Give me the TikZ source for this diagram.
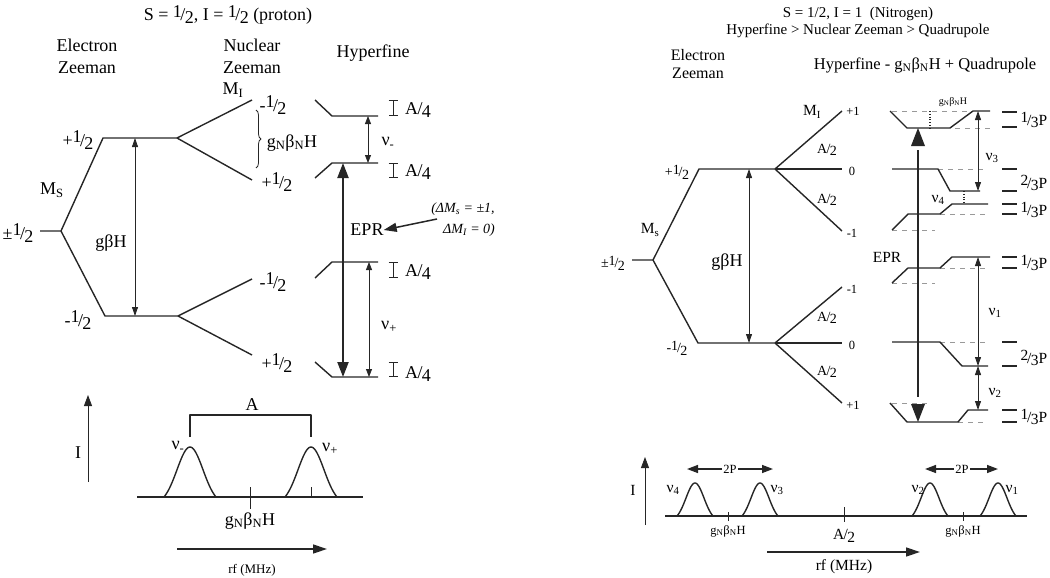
\documentclass[tikz,border=0pt]{standalone}
\usepackage{fontspec}
\setmainfont{Liberation Serif}
\usetikzlibrary{arrows.meta,decorations.pathreplacing}
\newcommand\hf[2]{\raisebox{.45ex}{#1}\kern-.08em/\kern-.04em\raisebox{-.35ex}{#2}}
\newcommand\lo[2]{#1\kern-.04em/\kern-.04em\raisebox{-.4ex}{#2}}
\begin{document}
\begin{tikzpicture}[x=1pt,y=-1pt,line join=round,
  >={Triangle[length=9pt,width=6pt]},
  big/.style={font=\fontsize{18}{22}\selectfont,inner sep=0pt},
  mid/.style={font=\fontsize{15.5}{18}\selectfont,inner sep=0pt},
  sml/.style={font=\fontsize{12.5}{14}\selectfont,inner sep=0pt},
  tny/.style={font=\fontsize{10}{12}\selectfont,inner sep=0pt},
  lev/.style={line width=1.4pt,black!85},
  thn/.style={line width=0.8pt,black!85},
  epr/.style={line width=2.2pt,black!85,>={Triangle[length=15pt,width=11pt]}},
  gl/.style={black!40,line width=0.7pt,dash pattern=on 5pt off 5pt},
  ibar/.style={thn,{Bar[width=9pt]}-{Bar[width=9pt]}}]
\useasboundingbox (0,0) rectangle (1050,578);
% proton
\node[big] (ttlP) at (228,15) {S = \hf12, I = \hf12 (proton)};
\node[big,align=center] (ezP) at (87,56) {Electron\\Zeeman};
\node[big,align=center] (nzP) at (252,56) {Nuclear\\Zeeman};
\node[big] (hfP) at (373,53) {Hyperfine};
\draw[lev] (40,231)--(61,231)--(103,138)--(177,138)--(252,100);
\draw[lev] (177,138)--(252,180);
\draw[lev] (61,231)--(105,316)--(178,316)--(252,279);
\draw[lev] (178,316)--(252,355);
\node[big] (pmP) at (18,233) {±\hf12};
\node[big] (msP) at (52,190) {M\textsubscript{S}};
\node[big] (upP) at (78,140) {+\hf12};
\node[big] (dnP) at (78,320) {-\hf12};
\node[big] (miP) at (233,90) {M\textsubscript{I}};
\node[big] (a1P) at (273,105) {-\hf12};
\node[big] (a2P) at (277,182) {+\hf12};
\node[big] (a3P) at (273,282) {-\hf12};
\node[big] (a4P) at (277,363) {+\hf12};
\draw[thn,<->] (135,138)--(135,316);
\node[big] (gbhP) at (111,243) {gβH};
\draw[thn,decorate,decoration={brace,amplitude=5pt}] (256,110)--(256,168);
\node[big] (gnP) at (292,143) {g\textsubscript{N}β\textsubscript{N}H};
\draw[lev] (315,100)--(332,116)--(378,116);
\draw[lev] (315,178)--(332,163)--(378,163);
\draw[lev] (315,278)--(332,262)--(378,262);
\draw[lev] (315,362)--(332,377)--(378,377);
\foreach \a/\b in {100/116,163/178,262/278,362/377}
  \draw[ibar] (393,\a)--(393,\b);
\foreach \y in {110,172,272,374}
  \node[big] at (418,\y) {\lo A4};
\draw[thn,<->,>={Triangle[length=8pt,width=6pt]}] (368,116)--(368,163);
\draw[thn,<->,>={Triangle[length=8pt,width=6pt]}] (369,262)--(369,377);
\node[big] (nmP) at (388,143) {ν\textsubscript{-}};
\node[big] (npP) at (389,327) {ν\textsubscript{+}};
\draw[epr,<->] (343,163)--(343,377);
\node[big] (eprP) at (367,230) {EPR};
\coordinate (epra) at (437,219);
\draw[line width=1.5pt,black!85,-{Triangle[length=13pt,width=9pt]}] (epra)--(eprP.east);
\node[mid,font=\fontsize{14}{16}\selectfont\itshape] (dmsP) at (463,209) {(ΔM\textsubscript{s} = ±1,};
\node[mid,font=\fontsize{14}{16}\selectfont\itshape] (dmiP) at (469,230) {ΔM\textsubscript{I} = 0)};
% proton spectrum
\draw[thn,->,>={Triangle[length=11pt,width=8pt]}] (88,482)--(88,395);
\node[big] (iP) at (78,453) {I};
\draw[lev] (137,497)--(363,497);
\foreach \c in {190,311}
  \draw[lev] plot[smooth,samples=40,domain=-26:26] ({\c+\x},{497-50*(exp(-(\x)*(\x)/338)-0.135)/0.865});
\draw[thn] (250,487)--(250,509);
\draw[thn] (311,487)--(311,497);
\draw[lev] (190,437)--(190,415)--(311,415)--(311,437);
\node[big] (aP) at (252,405) {A};
\node[big] (vmP) at (178,447) {ν\textsubscript{-}};
\node[big] (vpP) at (330,449) {ν\textsubscript{+}};
\node[big] (gnbP) at (250,521) {g\textsubscript{N}β\textsubscript{N}H};
\draw[lev,->,>={Triangle[length=14pt,width=9pt]}] (177,549)--(327,549);
\node[mid,font=\fontsize{13}{15}\selectfont] (rfP) at (252,570) {rf (MHz)};
% nitrogen
\node[mid,align=center,font=\fontsize{15}{17}\selectfont] (ttlN) at (858,22) {S = 1/2, I = 1\ \ (Nitrogen)\\Hyperfine {\char"003E} Nuclear Zeeman {\char"003E} Quadrupole};
\node[mid,align=center,font=\fontsize{16}{18}\selectfont] (ezN) at (698,64) {Electron\\Zeeman};
\node[mid,font=\fontsize{16.5}{18}\selectfont] (hfN) at (925,65) {Hyperfine - g\textsubscript{N}β\textsubscript{N}H + Quadrupole};
\draw[lev] (632,260)--(653,260)--(699,169)--(775,169)--(842,111);
\draw[lev] (775,169)--(842,169);
\draw[lev] (775,169)--(842,231);
\draw[lev] (653,260)--(698,343)--(775,343)--(842,287);
\draw[lev] (775,343)--(842,343);
\draw[lev] (775,343)--(842,403);
\node[sml,font=\fontsize{14}{16}\selectfont] (pmN) at (613,263) {±\hf12};
\node[mid] (msN) at (650,230) {M\textsubscript{s}};
\node[sml,font=\fontsize{14}{16}\selectfont] (upN) at (677,172) {+\hf12};
\node[sml,font=\fontsize{14}{16}\selectfont] (dnN) at (677,348) {-\hf12};
\draw[thn,<->] (749,169)--(749,343);
\node[big] (gbhN) at (727,262) {gβH};
\node[mid] (miN) at (812,112) {M\textsubscript{I}};
\node[sml] (l1N) at (853,111) {+1};
\node[sml] (l2N) at (852,171) {0};
\node[sml] (l3N) at (852,233) {-1};
\node[sml] (l4N) at (852,289) {-1};
\node[sml] (l5N) at (852,345) {0};
\node[sml] (l6N) at (853,405) {+1};
\foreach \y in {150,200,318,372}
  \node[sml,font=\fontsize{14}{16}\selectfont] at (827,\y) {\lo A2};
% hyperfine levels
\draw[gl] (892,111)--(967,111);
\draw[gl] (955,128)--(993,128);
\draw[lev] (890,111)--(907,128)--(950,128)--(973,111)--(990,111);
\draw[gl] (938,169)--(987,169);
\draw[lev] (892,169)--(938,169)--(950,191)--(980,191);
\draw[gl] (892,230)--(935,230);
\draw[gl] (940,214)--(987,214);
\draw[lev] (892,230)--(908,214)--(940,214)--(952,204)--(988,204);
\draw[gl] (892,283)--(935,283);
\draw[gl] (940,268)--(987,268);
\draw[lev] (892,283)--(908,268)--(940,268)--(952,257)--(990,257);
\draw[gl] (940,342)--(987,342);
\draw[lev] (892,342)--(940,342)--(962,366)--(988,366);
\draw[gl] (892,403)--(930,403);
\draw[gl] (958,422)--(987,422);
\draw[lev] (890,403)--(907,422)--(958,422)--(968,410)--(988,410);
\draw[thn,dotted,line width=1.2pt] (930,111)--(930,128);
\draw[thn,dotted,line width=1.2pt] (964,191)--(964,204);
\node[tny] (gnN) at (953,102) {g\textsubscript{N}β\textsubscript{N}H};
\foreach \y in {112,127,169,191,204,214,257,268,342,366,410,422}
  \draw[lev] (1002,\y)--(1017,\y);
\node[mid] at (1034,120) {\hf13P};
\node[mid] at (1034,183) {\hf23P};
\node[mid] at (1034,210) {\hf13P};
\node[mid] at (1034,263) {\hf13P};
\node[mid] at (1034,358) {\hf23P};
\node[mid] at (1034,417) {\hf13P};
\draw[thn,<->] (978,111)--(978,191);
\draw[thn,<->] (978,257)--(978,366);
\draw[thn,<->] (978,366)--(978,410);
\node[mid] (v3N) at (992,158) {ν\textsubscript{3}};
\node[mid] (v4N) at (938,200) {ν\textsubscript{4}};
\node[mid] (v1N) at (995,313) {ν\textsubscript{1}};
\node[mid] (v2N) at (995,393) {ν\textsubscript{2}};
\draw[line width=2.2pt,black!85] (918,150)--(918,397);
\fill[black!85] (918,128)--(911,146)--(925,146)--cycle;
\fill[black!85] (918,422)--(911,404)--(925,404)--cycle;
\node[mid] (eprN) at (887,257) {EPR};
% nitrogen spectrum
\draw[thn,->,>={Triangle[length=11pt,width=8pt]}] (645,525)--(645,457);
\node[mid] (iN) at (633,490) {I};
\draw[lev] (665,516)--(1027,516);
\foreach \c in {695,760,930,998}
  \draw[lev] plot[smooth,samples=40,domain=-18:18] ({\c+\x},{516-33*(exp(-(\x)*(\x)/162)-0.135)/0.865});
\draw[thn] (728,512)--(728,521);
\draw[thn] (844,507)--(844,522);
\draw[thn] (963,512)--(963,521);
\node[mid] (n4N) at (673,490) {ν\textsubscript{4}};
\node[mid] (n3N) at (777,490) {ν\textsubscript{3}};
\node[mid] (n2N) at (918,490) {ν\textsubscript{2}};
\node[mid] (n1N) at (1012,490) {ν\textsubscript{1}};
\node[sml,fill=white,inner sep=1pt] (p1N) at (730,469) {2P};
\node[sml,fill=white,inner sep=1pt] (p2N) at (962,469) {2P};
\draw[lev,->,>={Triangle[length=11pt,width=8pt]}] (p1N.west)--(687,469);
\draw[lev,->,>={Triangle[length=11pt,width=8pt]}] (p1N.east)--(773,469);
\draw[lev,->,>={Triangle[length=11pt,width=8pt]}] (p2N.west)--(925,469);
\draw[lev,->,>={Triangle[length=11pt,width=8pt]}] (p2N.east)--(998,469);
\node[sml] (g1N) at (728,531) {g\textsubscript{N}β\textsubscript{N}H};
\node[sml] (g2N) at (963,531) {g\textsubscript{N}β\textsubscript{N}H};
\node[mid] (a2N) at (844,536) {\lo A2};
\draw[lev,->,>={Triangle[length=14pt,width=9pt]}] (767,552)--(920,552);
\node[mid] (rfN) at (844,567) {rf (MHz)};
\end{tikzpicture}
\end{document}
